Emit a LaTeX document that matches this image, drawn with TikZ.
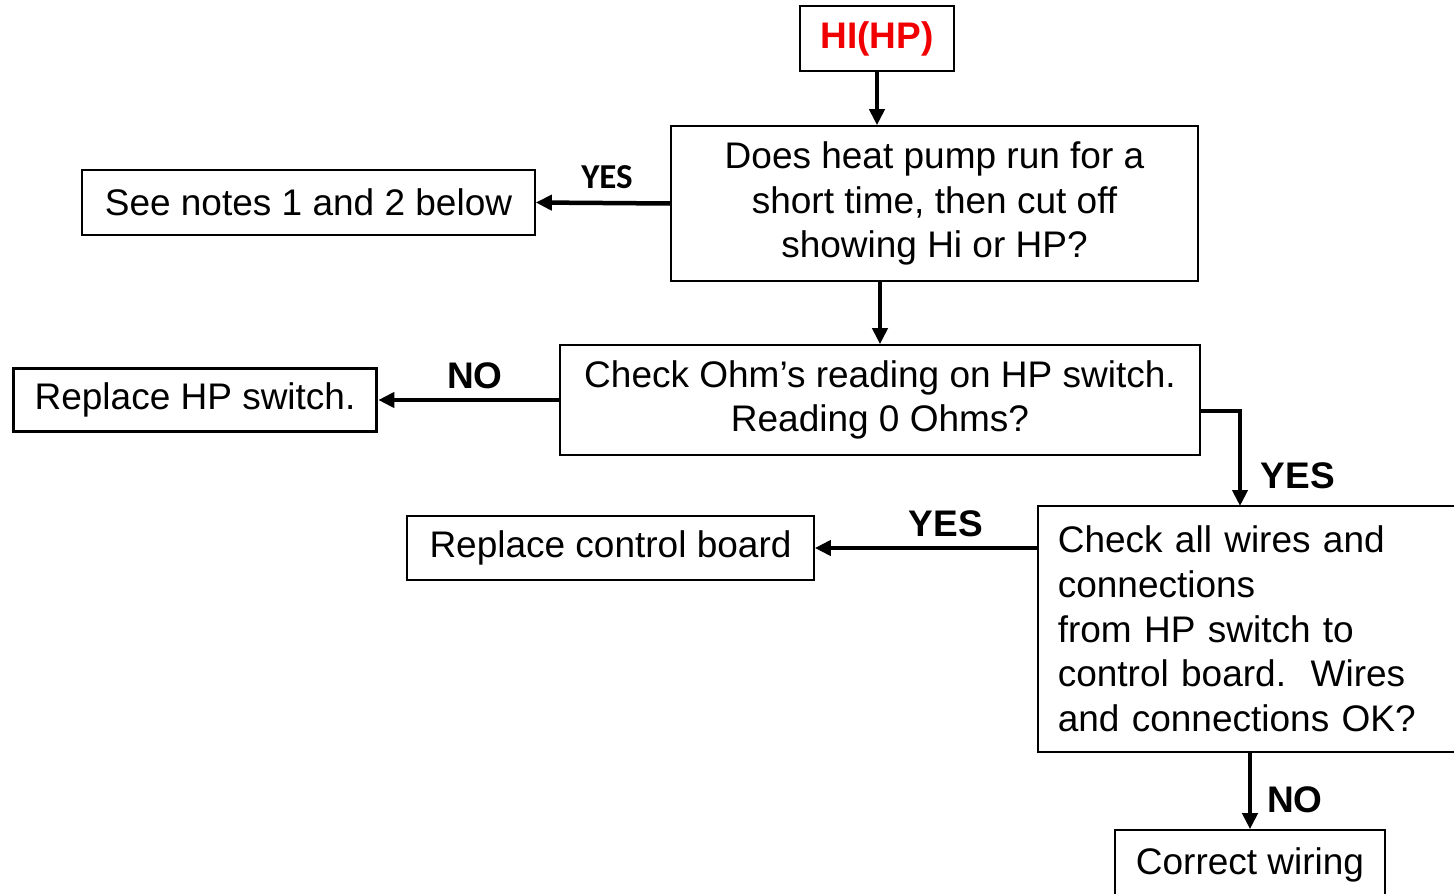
\documentclass[tikz,border=0pt]{standalone}
\usepackage{fontspec}
\setmainfont{Liberation Sans}
\newfontfamily\calib{Carlito}
\usetikzlibrary{arrows.meta}
\definecolor{hired}{RGB}{240,0,0}
\begin{document}
\begin{tikzpicture}[x=1pt,y=-1pt,
  every node/.style={font=\fontsize{37}{44.7}\selectfont},
  box/.style={draw, line width=1.6pt, inner sep=0pt, align=center},
  thickbox/.style={box, line width=3.6pt},
  conn/.style={line width=4.5pt, -{Triangle[length=16pt,width=15pt]}},
  lbl/.style={inner sep=0pt, font=\fontsize{37}{40}\selectfont\bfseries},
  clbl/.style={inner sep=0pt, font=\fontsize{35}{40}\selectfont\calib\bfseries}]
\useasboundingbox (0,0) rectangle (1454,894);

\node[box, minimum width=154, minimum height=65, text=hired, font=\fontsize{37}{44}\selectfont\bfseries] (hi) at (877,38.5) {HI(HP)};
\node[box, minimum width=527, minimum height=155] (q1) at (934.5,203.5)
  {Does heat pump run for a\\short time, then cut off\\showing Hi or HP?};
\node[box, minimum width=453, minimum height=65] (notes) at (308.5,202.5) {See notes 1 and 2 below};
\node[box, minimum width=640, minimum height=110] (q2) at (880,400)
  {Check Ohm’s reading on HP switch.\\Reading 0 Ohms?};
\node[thickbox, minimum width=363, minimum height=63] (rhp) at (195,400) {Replace HP switch.};
\node[box, align=left, anchor=west, inner xsep=20pt, inner ysep=0pt, text width=393, minimum height=246] (q3) at (1037,629)
  {Check all wires and\\connections\\from HP switch to\\control board.\ \ Wires\\and connections OK?};
\node[box, minimum width=407, minimum height=64] (rcb) at (610.5,548) {Replace control board};
\node[box, minimum width=270, minimum height=70] (cw) at (1250,865) {Correct wiring};

\draw[conn] (hi.south) -- (hi.south |- q1.north);
\draw[conn] (q1.west) -- (notes.east);
\draw[conn] (q2.north |- q1.south) -- (q2.north);
\draw[conn] (q2.west) -- (rhp.east);
\coordinate (q2out) at (1200,411);
\coordinate (q3in) at (1240,506);
\draw[conn, line join=miter] (q2out) -| (q3in);
\draw[conn] (rcb.east -| q3.west) -- (rcb.east);
\draw[conn] (q3.south -| cw.north) -- (cw.north);

\node[clbl] (l1) at (607,177) {YES};
\node[lbl] (l2) at (475,376) {NO};
\node[lbl] (l3) at (1298,476) {YES};
\node[lbl] (l4) at (946,524) {YES};
\node[lbl] (l5) at (1295,800) {NO};
\end{tikzpicture}
\end{document}
